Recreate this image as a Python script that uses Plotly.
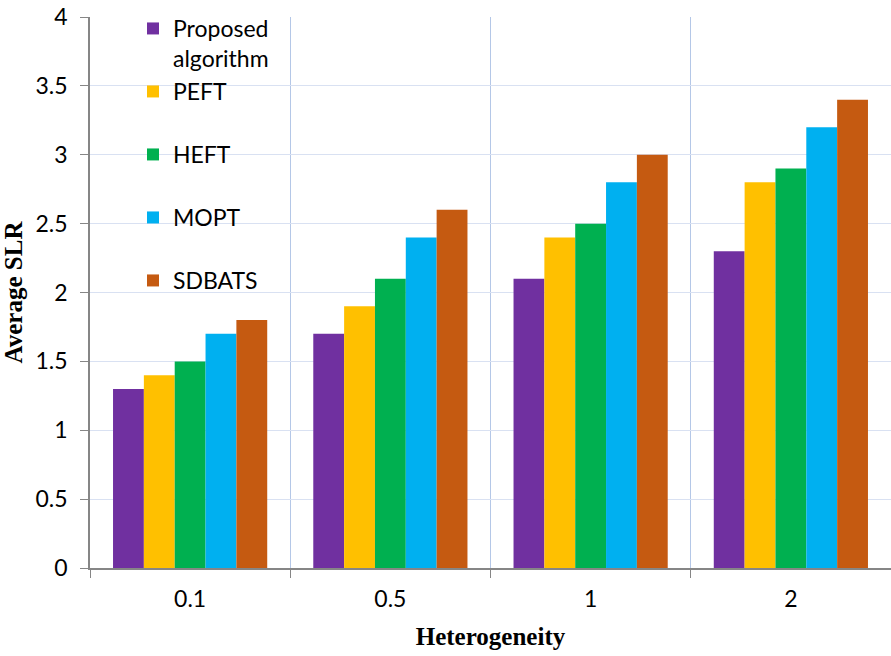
import plotly.graph_objects as go

categories = ["0.1", "0.5", "1", "2"]
series_names = ["Proposed<br>algorithm", "PEFT", "HEFT", "MOPT", "SDBATS"]
proposed = [1.3, 1.7, 2.1, 2.3]
peft = [1.4, 1.9, 2.4, 2.8]
heft = [1.5, 2.1, 2.5, 2.9]
mopt = [1.7, 2.4, 2.8, 3.2]
sdbats = [1.8, 2.6, 3.0, 3.4]
y_ticks = [0, 0.5, 1, 1.5, 2, 2.5, 3, 3.5, 4]
y_tick_labels = ["0", "0.5", "1", "1.5", "2", "2.5", "3", "3.5", "4"]

colors = ["#7030A0", "#FFC000", "#00B050", "#00B0F0", "#C55A11"]
values = [proposed, peft, heft, mopt, sdbats]

W, H = 891, 656
L, R, T, B = 90, 0, 17, 88
plot_h = H - T - B

def py_to_paper(py):
    return 1 - (py - T) / plot_h

def px_to_paper(px):
    return (px - L) / (W - L - R)

fig = go.Figure()
legend_names = ["legend", "legend2", "legend3", "legend4", "legend5"]
for name, vals, col, lg in zip(series_names, values, colors, legend_names):
    fig.add_trace(go.Bar(
        x=categories, y=vals, name=name, marker=dict(color=col, line=dict(width=0)),
        legend=lg,
    ))

tick_font = dict(family="Lato, Open Sans, sans-serif", size=23, color="#000000")
legend_font = dict(family="Lato, Open Sans, sans-serif", size=23, color="#000000")
title_font = dict(family="Liberation Serif, Times New Roman, serif", size=25, color="#000000", weight="bold")
legend_tops = [7, 70, 133, 196, 259]
layout_legends = {}
for lg, top in zip(legend_names, legend_tops):
    layout_legends[lg] = dict(
        x=px_to_paper(133), y=py_to_paper(top), xanchor="left", yanchor="top",
        bgcolor="rgba(0,0,0,0)", font=legend_font, valign="top",
        itemclick=False, itemdoubleclick=False, tracegroupgap=0,
    )

fig.update_layout(
    width=W, height=H,
    margin=dict(l=L, r=R, t=T, b=B, pad=0),
    paper_bgcolor="white", plot_bgcolor="white",
    barmode="group", bargap=0.23, bargroupgap=0,
    showlegend=True,
    **layout_legends,
)
fig.update_xaxes(
    type="category", tickson="boundaries", ticks="outside", ticklen=8,
    tickcolor="#868686", showline=True, linecolor="#868686", linewidth=1.5,
    showgrid=True, gridcolor="#B4C7E7", gridwidth=1,
    tickfont=tick_font, ticklabelstandoff=10,
    title=dict(text="Heterogeneity", font=title_font, standoff=16),
    range=[-0.5, 3.5], fixedrange=True,
)
fig.update_yaxes(
    range=[0, 4], tickvals=y_ticks, ticktext=y_tick_labels,
    ticks="outside", ticklen=8, tickcolor="#868686",
    showline=True, linecolor="#868686", linewidth=1.5,
    showgrid=True, gridcolor="#D9E1F2", gridwidth=1,
    zeroline=False, tickfont=tick_font, ticklabelstandoff=8,
    title=dict(text="Average SLR", font=title_font, standoff=12),
    fixedrange=True,
)

fig.write_html("out.html", config={"displayModeBar": False})
